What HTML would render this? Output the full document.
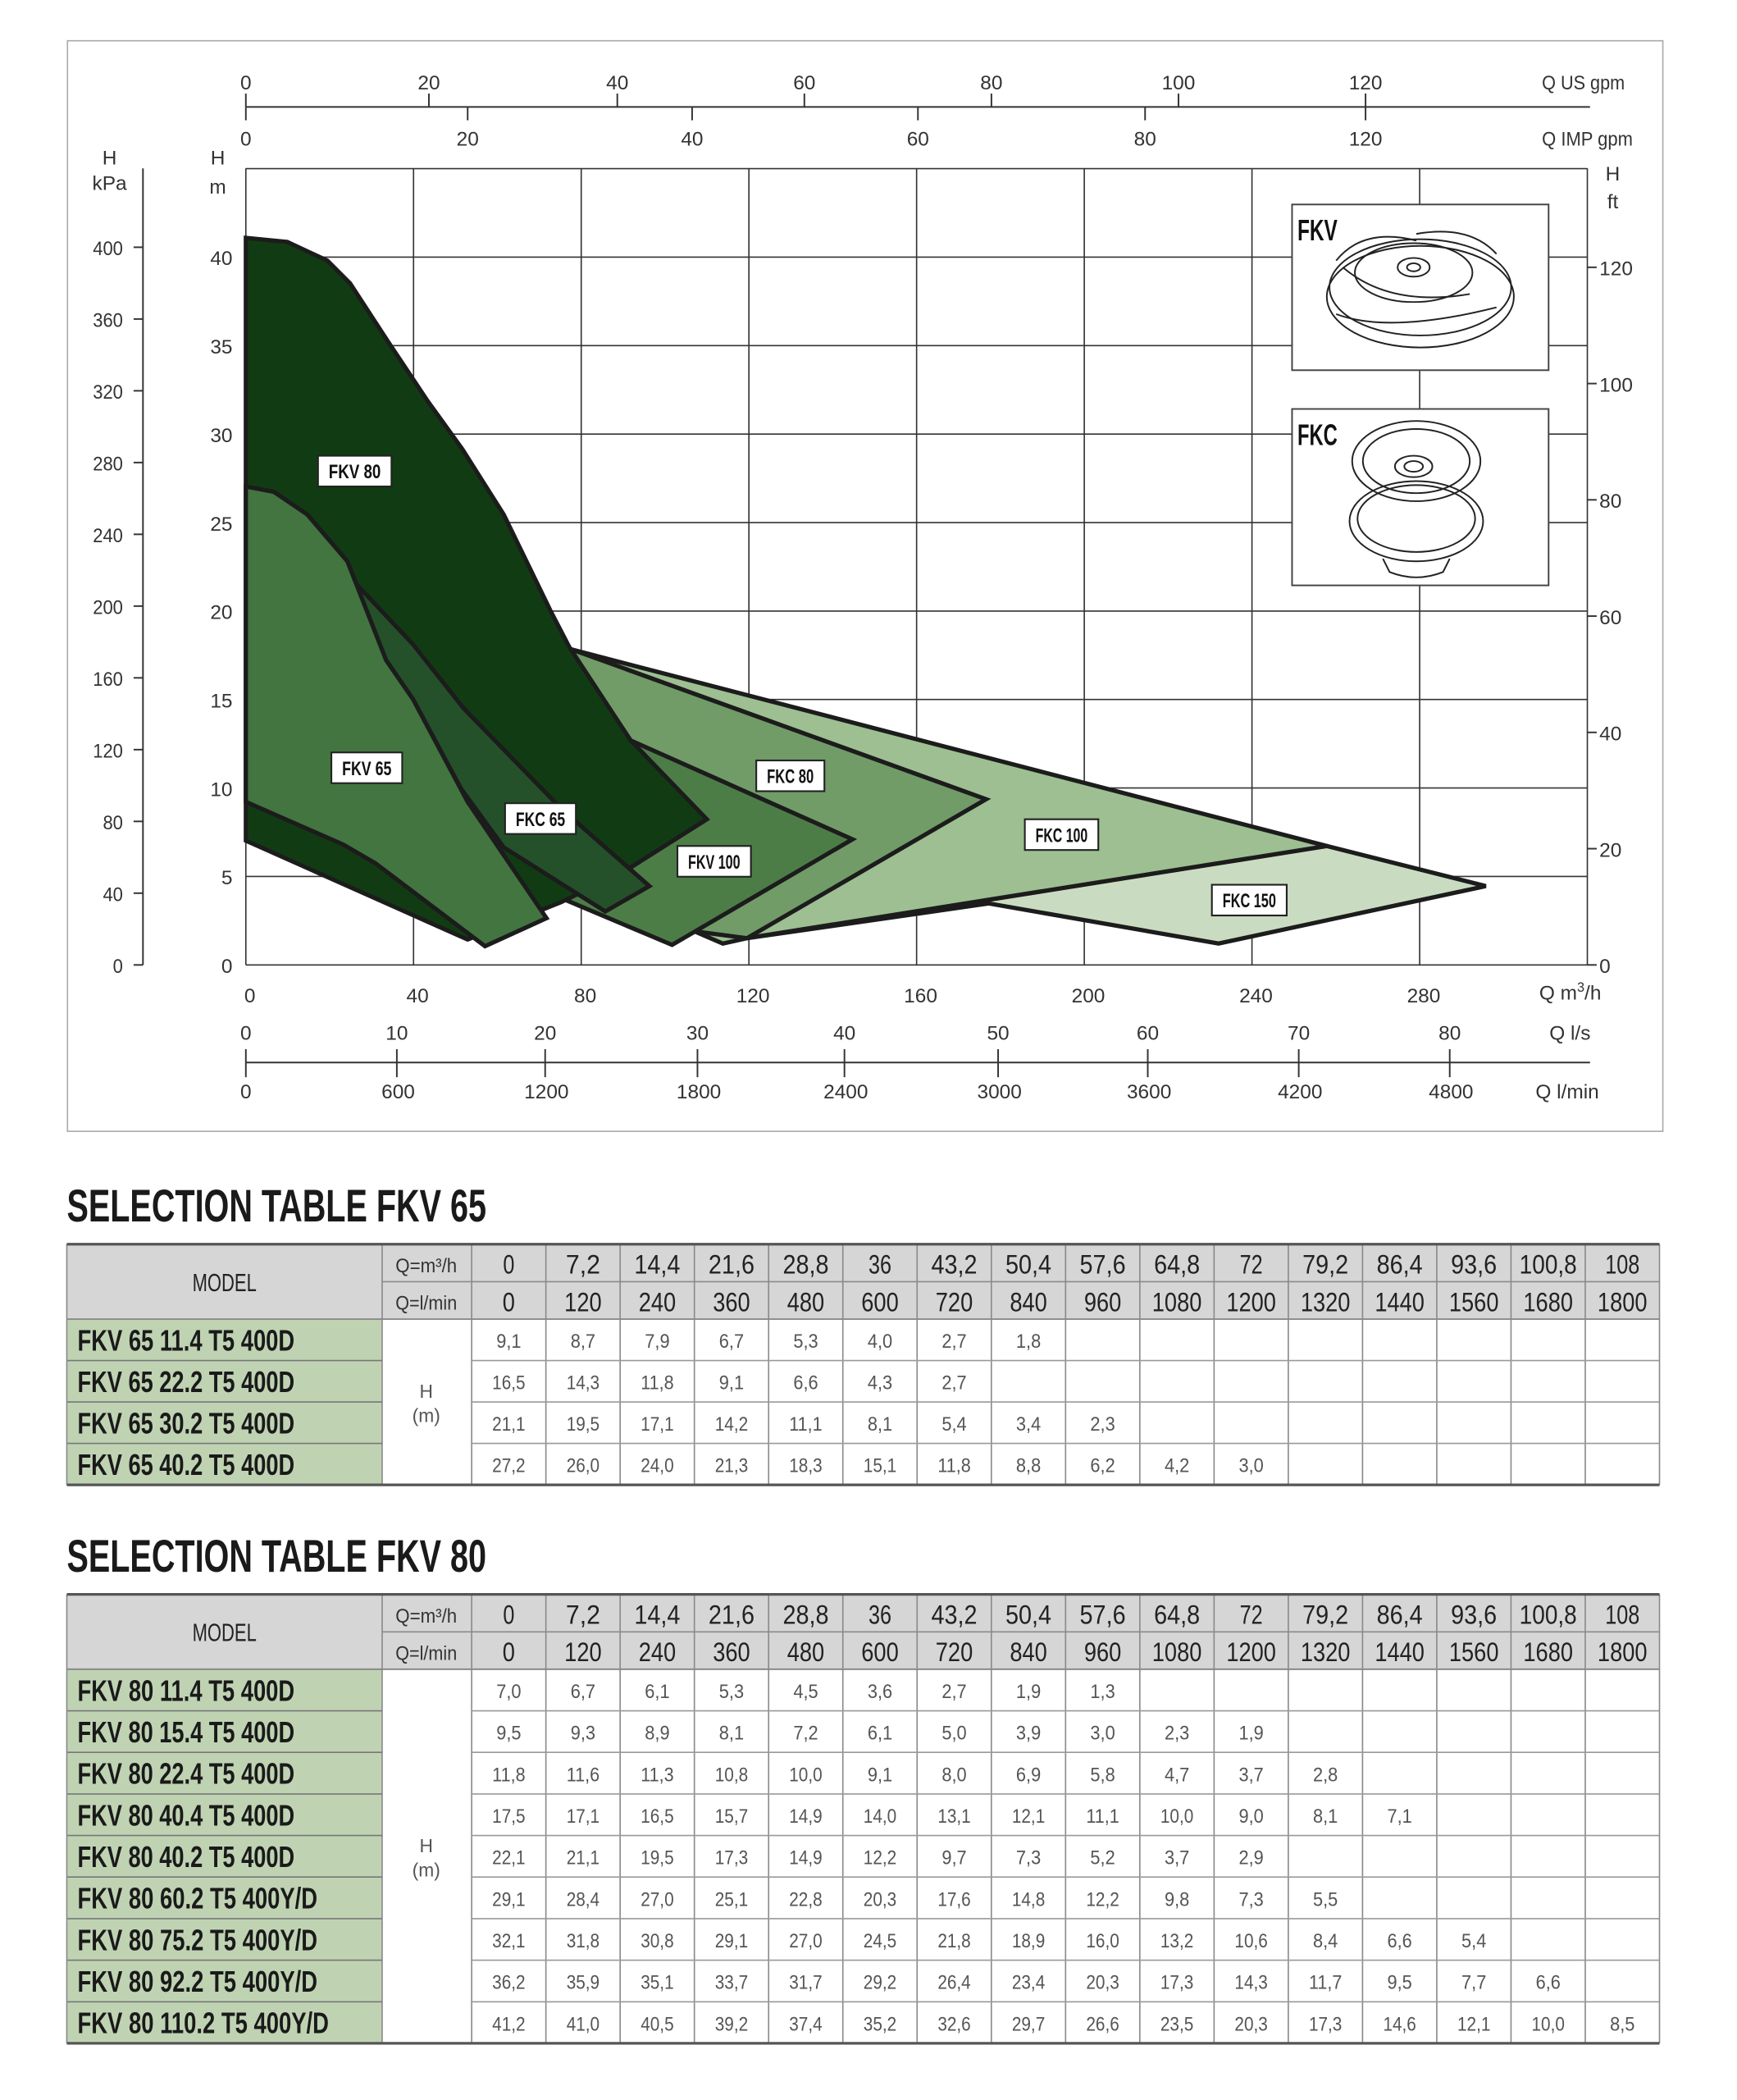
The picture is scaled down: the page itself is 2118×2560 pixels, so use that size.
<!DOCTYPE html>
<html><head><meta charset="utf-8">
<style>
html,body{margin:0;padding:0;background:#fff;}
svg{display:block;}
text{font-family:"Liberation Sans Narrow","Liberation Sans",sans-serif;}
</style></head>
<body>
<svg id="s" xmlns="http://www.w3.org/2000/svg" width="2118" height="2560" viewBox="0 0 1300 1571.3" preserveAspectRatio="none">
<rect x="50.5" y="30.5" width="1194" height="816" fill="none" stroke="#aaa" stroke-width="1"/>
<g id="chart"></g>
<g id="tables"></g>
</svg>
<script>
const NS="http://www.w3.org/2000/svg";
function el(p,tag,a,txt){const e=document.createElementNS(NS,tag);for(const k in a)e.setAttribute(k,a[k]);if(txt!==undefined)e.textContent=txt;p.appendChild(e);return e;}
const C=document.getElementById('chart');
function T(x,y,s,o){o=o||{};return el(C,'text',Object.assign({x:x,y:y,'font-size':o.fs||15,'text-anchor':o.a||'middle',fill:o.f||'#333','font-weight':o.w||'normal'},o.tl?{textLength:o.tl,lengthAdjust:'spacingAndGlyphs'}:{}),s);}
function L(x1,y1,x2,y2,c,w){el(C,'line',{x1,y1,x2,y2,stroke:c||'#333','stroke-width':w||1});}
const X0=184,X1=1188,Y0=722,Y1=126;
el(C,'rect',{x:X0,y:Y1,width:X1-X0,height:Y0-Y1,fill:'#fff'});
const poly=(pts,fill)=>el(C,'polygon',{points:pts,fill:fill,stroke:'#1c1c1c','stroke-width':3.2,'stroke-linejoin':'miter'});
for(let i=0;i<=8;i++){const x=X0+125.5*i;L(x,Y1,x,Y0,'#333',1);}
for(let k=0;k<=9;k++){const y=Y0-66.2*k;L(X0,y,X1,y,'#333',1);}
poly("559,702 993,633 1112,663 912,706 740,676",'#c9dcc1');
poly("428,486 993,633 559,702 541,706 520,697",'#9dbf92');
poly("428,486 738,598 559,702 521,697 470,670",'#719c68');
poly("472,554 638,628 503,707 420,672",'#4d7d47');
poly("184,178 215,181 245,195 262,212 290,255 320,300 346,336 377,385 412,457 426,484 472,554 529,613 469,651 420,675 350,703 184,629",'#113c13');
poly("184,364 227,390 260,430 309,482 347,530 420,605 486,663 453,682 377,634 345,590 309,523 289,494",'#24512a');
poly("184,364 205,368 230,385 260,420 289,494 309,523 350,600 409,687 363,708 281,646 257,632 184,600",'#427540');
function box(x,y,w,s){el(C,'rect',{x:x,y:y,width:w,height:23,fill:'#fff',stroke:'#222','stroke-width':1.3});T(x+w/2,y+17,s,{fs:15,w:'bold',f:'#111',tl:w-16});}
box(238,341,55,'FKV 80');box(248,563,53,'FKV 65');box(378,601,53,'FKC 65');box(507,633,55,'FKV 100');box(566,569,51,'FKC 80');box(767,613,55,'FKC 100');box(907,662,56,'FKC 150');
el(C,'rect',{x:967,y:153,width:192,height:124,fill:'#fff',stroke:'#444','stroke-width':1.2});
el(C,'rect',{x:967,y:306,width:192,height:132,fill:'#fff',stroke:'#444','stroke-width':1.2});
T(971,180,'FKV',{fs:22,w:'bold',a:'start',f:'#111',tl:30});
T(971,333,'FKC',{fs:22,w:'bold',a:'start',f:'#111',tl:30});
const g=el(C,'g',{fill:'none',stroke:'#222','stroke-width':1.2});
el(g,'ellipse',{cx:1063,cy:215,rx:68,ry:36});el(g,'ellipse',{cx:1063,cy:222,rx:70,ry:38});
el(g,'ellipse',{cx:1058,cy:204,rx:44,ry:22});el(g,'ellipse',{cx:1058,cy:200,rx:12,ry:7});el(g,'ellipse',{cx:1058,cy:200,rx:5,ry:3});
el(g,'path',{d:"M1000,195 Q1020,170 1060,180 M1120,190 Q1100,168 1060,175 M1000,235 Q1040,250 1120,230 M1005,200 Q1040,230 1100,220"});
el(g,'ellipse',{cx:1060,cy:345,rx:48,ry:30});el(g,'ellipse',{cx:1060,cy:345,rx:40,ry:24});el(g,'ellipse',{cx:1058,cy:349,rx:14,ry:8});el(g,'ellipse',{cx:1058,cy:349,rx:7,ry:4});
el(g,'ellipse',{cx:1060,cy:390,rx:50,ry:30});el(g,'ellipse',{cx:1060,cy:388,rx:44,ry:25});
el(g,'path',{d:"M1035,418 L1040,428 Q1060,436 1080,428 L1085,418"});
L(107,126,107,722,'#333',1.2);
for(let k=0;k<=10;k++){const y=722-53.7*k;L(100,y,107,y,'#333',1.2);T(92,y+6,String(40*k),{fs:15,a:'end',tl:String(40*k).length*7.5});}
T(82,123,'H',{fs:15});T(82,142,'kPa',{fs:15});
T(163,123,'H',{fs:15});T(163,145,'m',{fs:15});
for(let k=0;k<=8;k++){const y=Y0-66.2*k;T(174,y+6,String(5*k),{fs:15,a:'end'});}
T(1207,135,'H',{fs:15});T(1207,156,'ft',{fs:15});
for(let k=0;k<=6;k++){const y=722-87*k;L(1188,y,1195,y,'#333',1.2);T(1197,y+6,String(20*k),{fs:15,a:'start'});}
L(184,80,1190,80,'#333',1.2);
[[184,0],[321,20],[462,40],[602,60],[742,80],[882,100],[1022,120]].forEach(([x,v])=>{L(x,70,x,80,'#333',1.2);T(x,67,String(v),{fs:15});});
[[184,0],[350,20],[518,40],[687,60],[857,80],[1022,120]].forEach(([x,v])=>{L(x,80,x,90,'#333',1.2);T(x,109,String(v),{fs:15});});
T(1216,67,'Q US gpm',{fs:15,a:'end',tl:62});T(1222,109,'Q IMP gpm',{fs:15,a:'end',tl:68});
[0,40,80,120,160,200,240,280].forEach((v,i)=>T(X0+3+125.5*i,750,String(v),{fs:15}));
(function(){const t=el(C,'text',{x:1152,y:748,'font-size':15,fill:'#333'},'Q m');const ts=document.createElementNS(NS,'tspan');ts.setAttribute('dy','-6');ts.setAttribute('font-size','10');ts.textContent='3';t.appendChild(ts);const t2=document.createElementNS(NS,'tspan');t2.setAttribute('dy','6');t2.textContent='/h';t.appendChild(t2);})();
L(184,795,1190,795,'#333',1.2);
const ls=[[184,0],[297,10],[408,20],[522,30],[632,40],[747,50],[859,60],[972,70],[1085,80]];
const lm=[0,600,1200,1800,2400,3000,3600,4200,4800];
ls.forEach(([x,v],i)=>{L(x,785,x,806,'#333',1.2);T(x,778,String(v),{fs:15});T(x+(i?1:0),822,String(lm[i]),{fs:15});});
T(1175,778,'Q l/s',{fs:15});T(1173,822,'Q l/min',{fs:15});

const G=document.getElementById('tables');
function TT(x,y,s,o){o=o||{};return el(G,'text',Object.assign({x:x,y:y,'font-size':o.fs||15,'text-anchor':o.a||'middle',fill:o.f||'#333','font-weight':o.w||'normal'},o.tl?{textLength:o.tl,lengthAdjust:'spacingAndGlyphs'}:{}),s);}
function LL(x1,y1,x2,y2,c,w){el(G,'line',{x1,y1,x2,y2,stroke:c,'stroke-width':w});}
const qm=['0','7,2','14,4','21,6','28,8','36','43,2','50,4','57,6','64,8','72','79,2','86,4','93,6','100,8','108'];
const ql=['0','120','240','360','480','600','720','840','960','1080','1200','1320','1440','1560','1680','1800'];
function table(titleY,top,rh,models,data,title){
  TT(50,titleY,title,{fs:34,w:'bold',a:'start',f:'#1a1a1a',tl:314});
  const hx=50,x1=286,x2=353,xe=1242,cw=(xe-x2)/16,hh=28;
  const bTop=top+2*hh,bot=bTop+rh*models.length;
  el(G,'rect',{x:hx,y:top,width:xe-hx,height:2*hh,fill:'#d6d6d6'});
  el(G,'rect',{x:hx,y:bTop,width:x1-hx,height:bot-bTop,fill:'#bfd3b3'});
  LL(x1,top,x1,bot,'#8a8a8a',1);LL(x2,top,x2,bot,'#8a8a8a',1);
  for(let i=1;i<16;i++){const x=x2+cw*i;LL(x,top,x,bot,'#8a8a8a',1);}
  LL(x1,top+hh,xe,top+hh,'#8a8a8a',1);
  LL(hx,bTop,xe,bTop,'#8a8a8a',1.2);
  for(let r=1;r<models.length;r++){const y=bTop+rh*r;LL(hx,y,x1,y,'#777',1);LL(x2,y,xe,y,'#999',1);}
  LL(xe,top,xe,bot,'#8a8a8a',1);LL(hx,top,hx,bot,'#8a8a8a',1);
  LL(hx,top,xe,top,'#555',2);LL(hx,bot,xe,bot,'#555',2);
  TT(168,top+hh+7,'MODEL',{fs:19,f:'#222',tl:48});
  TT(319,top+21,'Q=m³/h',{fs:15,f:'#333',tl:46});TT(319,top+hh+21,'Q=l/min',{fs:15,f:'#333',tl:46});
  for(let i=0;i<16;i++){const cx=x2+cw*(i+0.5);TT(cx,top+22,qm[i],{fs:20,f:'#222',tl:qm[i].length*8.6});TT(cx,top+hh+22,ql[i],{fs:20,f:'#222',tl:ql[i].length*9.3});}
  const mid=(bTop+bot)/2;TT(319,mid-3,'H',{fs:14,f:'#555'});TT(319,mid+15,'(m)',{fs:14,f:'#555'});
  models.forEach((m,r)=>{const y=bTop+rh*r+rh/2+8;TT(58,y,m,{fs:22,w:'bold',a:'start',f:'#1a1a1a',tl:m.length*8.55});
    data[r].forEach((v,i)=>{if(v)TT(x2+cw*(i+0.5),y-2,v,{fs:15,f:'#555',tl:v.length*6.2});});});
}
const m65=['FKV 65 11.4 T5 400D','FKV 65 22.2 T5 400D','FKV 65 30.2 T5 400D','FKV 65 40.2 T5 400D'];
const d65=[['9,1','8,7','7,9','6,7','5,3','4,0','2,7','1,8'],['16,5','14,3','11,8','9,1','6,6','4,3','2,7'],['21,1','19,5','17,1','14,2','11,1','8,1','5,4','3,4','2,3'],['27,2','26,0','24,0','21,3','18,3','15,1','11,8','8,8','6,2','4,2','3,0']];
table(914,931,31,m65,d65,'SELECTION TABLE FKV 65');
const m80=['FKV 80 11.4 T5 400D','FKV 80 15.4 T5 400D','FKV 80 22.4 T5 400D','FKV 80 40.4 T5 400D','FKV 80 40.2 T5 400D','FKV 80 60.2 T5 400Y/D','FKV 80 75.2 T5 400Y/D','FKV 80 92.2 T5 400Y/D','FKV 80 110.2 T5 400Y/D'];
const d80=[['7,0','6,7','6,1','5,3','4,5','3,6','2,7','1,9','1,3'],['9,5','9,3','8,9','8,1','7,2','6,1','5,0','3,9','3,0','2,3','1,9'],['11,8','11,6','11,3','10,8','10,0','9,1','8,0','6,9','5,8','4,7','3,7','2,8'],['17,5','17,1','16,5','15,7','14,9','14,0','13,1','12,1','11,1','10,0','9,0','8,1','7,1'],['22,1','21,1','19,5','17,3','14,9','12,2','9,7','7,3','5,2','3,7','2,9'],['29,1','28,4','27,0','25,1','22,8','20,3','17,6','14,8','12,2','9,8','7,3','5,5'],['32,1','31,8','30,8','29,1','27,0','24,5','21,8','18,9','16,0','13,2','10,6','8,4','6,6','5,4'],['36,2','35,9','35,1','33,7','31,7','29,2','26,4','23,4','20,3','17,3','14,3','11,7','9,5','7,7','6,6'],['41,2','41,0','40,5','39,2','37,4','35,2','32,6','29,7','26,6','23,5','20,3','17,3','14,6','12,1','10,0','8,5']];
table(1176,1193,31.1,m80,d80,'SELECTION TABLE FKV 80');
</script>
</body></html>
